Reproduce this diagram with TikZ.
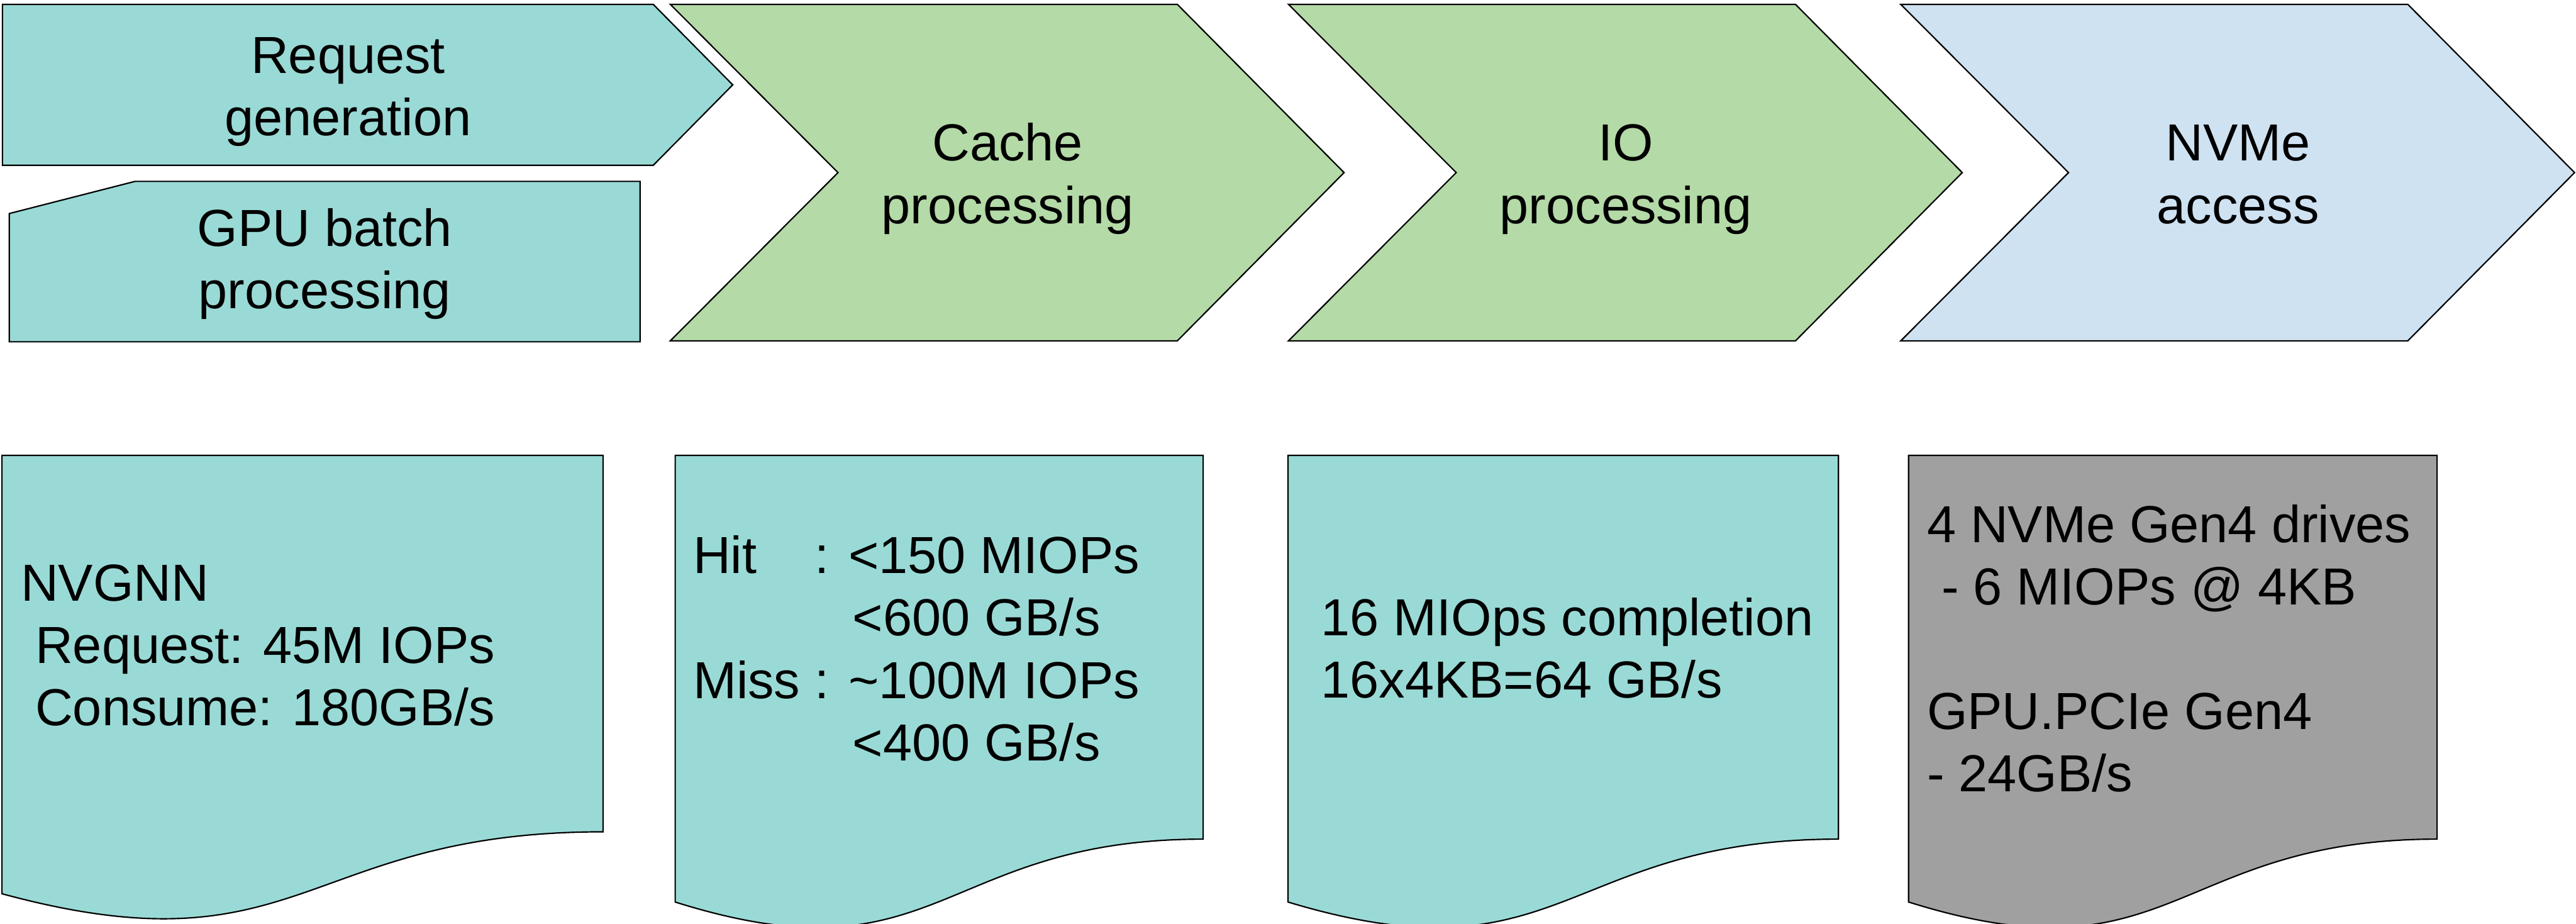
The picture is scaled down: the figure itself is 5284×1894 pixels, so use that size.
\documentclass[tikz,border=0pt]{standalone}
\usepackage{fontspec}
\setmainfont{Liberation Sans}
% strut with the full ascent and descent of the face, so text blocks centre evenly
\newcommand{\ls}{\rule[-0.212em]{0pt}{1.117em}}
\definecolor{stageteal}{RGB}{154,218,214}
\definecolor{stagegreen}{RGB}{180,218,167}
\definecolor{stageblue}{RGB}{207,226,242}
\definecolor{stagegray}{RGB}{160,160,160}
\begin{document}
\begin{tikzpicture}[x=0.01cm, y=-0.01cm,
  outline/.style={draw=black, line width=0.8pt, line join=miter},
  stagetext/.style={inner sep=0pt, align=center, text=black,
    font=\fontsize{30.4pt}{36.4pt}\selectfont},
  notetext/.style={inner sep=0pt, align=left, anchor=west, text=black,
    font=\fontsize{30.4pt}{36.4pt}\selectfont}]
\useasboundingbox (0,0) rectangle (5284,1894);

% ---- pipeline stages (top row) ----
\path[outline, fill=stageteal]
  (5,9) -- (1340,9) -- (1503,174) -- (1340,339) -- (5,339) -- cycle;
\path[outline, fill=stageteal]
  (277,372) -- (1313,372) -- (1313,701) -- (19,701) -- (19,438) -- cycle;
\path[outline, fill=stagegreen]
  (1375,9) -- (2415,9) -- (2757,354) -- (2415,699) -- (1375,699) -- (1719,354) -- cycle;
\path[outline, fill=stagegreen]
  (2643,9) -- (3683,9) -- (4025,354) -- (3683,699) -- (2643,699) -- (2987,354) -- cycle;
\path[outline, fill=stageblue]
  (3899,9) -- (4939,9) -- (5281,354) -- (4939,699) -- (3899,699) -- (4243,354) -- cycle;

\node[stagetext] (reqgen) at (714,177) {\ls Request\\\ls generation};
\node[stagetext] (gpubatch) at (666,532) {\ls GPU batch\\\ls processing};
\node[stagetext] (cacheproc) at (2067,357) {\ls Cache\\\ls processing};
\node[stagetext] (ioproc) at (3335,357) {\ls IO\\\ls processing};
\node[stagetext] (nvmeacc) at (4591,357) {\ls NVMe\\\ls access};

% ---- throughput notes (bottom row), document shapes with a wavy foot ----
\path[outline, fill=stageteal]
  (4,934) -- (1237,934) -- (1237,1706)
  .. controls (620,1706) and (620,2000) .. (4,1833) -- cycle;
\path[outline, fill=stageteal]
  (1385,934) -- (2468,934) -- (2468,1721)
  .. controls (1926,1721) and (1926,2020) .. (1385,1850) -- cycle;
\path[outline, fill=stageteal]
  (2642,934) -- (3771,934) -- (3771,1721)
  .. controls (3206,1721) and (3206,2020) .. (2642,1850) -- cycle;
\path[outline, fill=stagegray]
  (3915,934) -- (4999,934) -- (4999,1721)
  .. controls (4457,1721) and (4457,2020) .. (3915,1850) -- cycle;

\node[notetext] (gpunote) at (42,1323)
  {\ls NVGNN\\\ls\ Request: 45M IOPs\\\ls\ Consume: 180GB/s};
\node[notetext] (cachenote) at (1421,1331)
  {\ls Hit\hspace{0.834em} : <150 MIOPs\\
   \ls\hspace*{3.06em}<600 GB/s\\
   \ls Miss : \textasciitilde 100M IOPs\\
   \ls\hspace*{3.06em}<400 GB/s};
\node[notetext] (ionote) at (2709,1330)
  {\ls 16 MIOps completion\\\ls 16x4KB=64 GB/s};
\node[notetext] (nvmenote) at (3952,1331)
  {\ls 4 NVMe Gen4 drives\\\ls\ - 6 MIOPs @ 4KB\\\ls\\\ls GPU.PCIe Gen4\\\ls - 24GB/s};
\end{tikzpicture}
\end{document}
